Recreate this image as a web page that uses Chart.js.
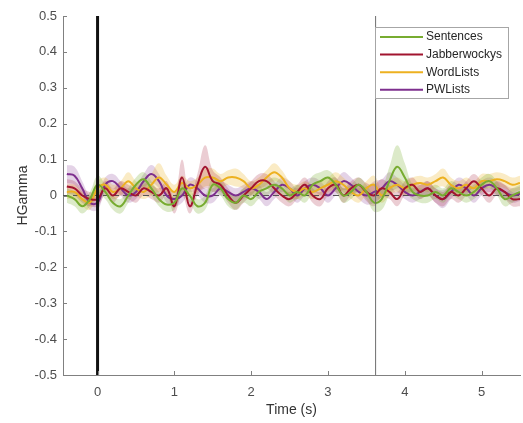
<!DOCTYPE html>
<html>
<head>
<meta charset="utf-8">
<script src="https://cdn.jsdelivr.net/npm/chart.js@4/dist/chart.umd.min.js"></script>
<style>
  html, body { margin: 0; padding: 0; background: #fff; }
  #wrap { width: 523px; height: 423px; position: relative; }
</style>
</head>
<body>
<div id="wrap"><canvas id="chart" width="523" height="423"></canvas></div>
<script>
// time base (s)
const times = [-0.4, -0.3, -0.2, -0.1, 0.0, 0.1, 0.2, 0.3, 0.4, 0.5, 0.6, 0.7, 0.8, 0.9,
  1.0, 1.1, 1.2, 1.3, 1.4, 1.5, 1.6, 1.7, 1.8, 1.9, 2.0, 2.1, 2.2, 2.3, 2.4, 2.5, 2.6, 2.7, 2.8, 2.9,
  3.0, 3.1, 3.2, 3.3, 3.4, 3.5, 3.6, 3.7, 3.8, 3.9, 4.0, 4.1, 4.2, 4.3, 4.4, 4.5, 4.6, 4.7, 4.8, 4.9,
  5.0, 5.1, 5.2, 5.3, 5.4, 5.5];

const labels = ["Sentences", "Jabberwockys", "WordLists", "PWLists"];
const colors = ["#77AC30", "#A2142F", "#EDB120", "#7E2F8E"];
const bandColors = ["rgba(119,172,48,0.26)", "rgba(162,20,47,0.21)", "rgba(237,177,32,0.26)", "rgba(126,47,142,0.21)"];

const sentences = [0.00, -0.01, -0.03, -0.01, 0.03, 0.01, -0.02, -0.03, 0.00, 0.03, 0.045, 0.02, -0.01, -0.025,
  -0.02, 0.02, 0.00, -0.03, -0.02, 0.03, 0.02, -0.01, -0.02, 0.00, -0.01, 0.01, 0.02, 0.03, 0.02, 0.00, 0.01, 0.00, 0.03, 0.04,
  0.05, 0.03, 0.00, 0.01, 0.03, 0.01, -0.02, -0.01, 0.04, 0.08, 0.05, 0.01, 0.00, 0.00, 0.01, 0.00, 0.02, 0.01, 0.00, 0.01,
  0.03, 0.04, 0.02, -0.01, 0.00, 0.01];
const jabber = [0.025, 0.02, 0.00, -0.01, -0.01, 0.02, 0.00, 0.02, 0.01, 0.00, 0.02, 0.01, 0.00, 0.02,
  -0.03, 0.05, -0.03, 0.03, 0.08, 0.04, 0.03, 0.00, -0.02, 0.00, 0.02, 0.04, 0.04, 0.02, 0.00, -0.01, 0.01, 0.03, 0.00, -0.01,
  0.02, 0.03, 0.00, 0.02, 0.03, 0.01, 0.00, 0.02, 0.01, -0.01, 0.02, 0.03, 0.01, 0.02, 0.00, -0.01, 0.01, 0.00, 0.02, 0.04,
  0.02, 0.00, 0.02, 0.01, -0.01, -0.01];
const wordLists = [0.01, 0.01, -0.01, -0.02, 0.02, 0.03, 0.01, 0.02, 0.04, 0.02, 0.01, 0.03, 0.05, 0.03,
  0.01, 0.035, 0.02, 0.03, 0.05, 0.05, 0.04, 0.05, 0.05, 0.04, 0.02, 0.03, 0.05, 0.065, 0.05, 0.02, 0.01, 0.02, 0.01, 0.02,
  0.03, 0.04, 0.03, 0.01, 0.00, 0.02, 0.03, 0.00, 0.02, 0.03, 0.02, 0.03, 0.035, 0.03, 0.04, 0.05, 0.03, 0.02, 0.03, 0.02,
  0.04, 0.04, 0.045, 0.04, 0.03, 0.035];
const pwLists = [0.06, 0.055, 0.02, -0.02, -0.02, 0.03, 0.04, 0.02, 0.00, 0.01, 0.04, 0.06, 0.04, 0.00,
  -0.01, 0.00, 0.03, 0.02, 0.00, 0.00, 0.02, 0.01, 0.00, 0.01, 0.02, 0.01, -0.01, 0.01, 0.03, 0.02, 0.00, 0.02, 0.03, 0.02,
  0.00, 0.02, 0.04, 0.03, 0.01, 0.00, 0.01, 0.02, 0.04, 0.03, 0.01, 0.00, 0.01, 0.02, 0.00, -0.01, 0.01, 0.03, 0.02, 0.00,
  0.02, 0.03, 0.02, 0.01, 0.00, 0.005];

// half-width of the shaded error bands
const sentencesErr = [0.02, 0.02, 0.02, 0.02, 0.025, 0.02, 0.02, 0.02, 0.02, 0.02, 0.02, 0.02, 0.02, 0.02,
  0.02, 0.02, 0.02, 0.02, 0.02, 0.02, 0.02, 0.02, 0.02, 0.02, 0.02, 0.02, 0.02, 0.02, 0.02, 0.02, 0.02, 0.02, 0.025, 0.025,
  0.02, 0.02, 0.02, 0.02, 0.02, 0.02, 0.025, 0.03, 0.04, 0.06, 0.04, 0.02, 0.02, 0.02, 0.02, 0.02, 0.02, 0.02, 0.02, 0.02,
  0.02, 0.02, 0.02, 0.02, 0.02, 0.02];
const jabberErr = [0.02, 0.02, 0.02, 0.02, 0.02, 0.02, 0.02, 0.02, 0.02, 0.02, 0.02, 0.02, 0.02, 0.02,
  0.02, 0.05, 0.02, 0.03, 0.06, 0.03, 0.02, 0.02, 0.02, 0.02, 0.02, 0.02, 0.02, 0.02, 0.02, 0.02, 0.02, 0.02, 0.02, 0.02,
  0.02, 0.02, 0.02, 0.02, 0.02, 0.025, 0.03, 0.025, 0.02, 0.02, 0.02, 0.02, 0.02, 0.02, 0.02, 0.02, 0.02, 0.02, 0.02, 0.02,
  0.02, 0.02, 0.02, 0.02, 0.02, 0.02];
const wordListsErr = [0.02, 0.02, 0.02, 0.02, 0.02, 0.02, 0.02, 0.02, 0.025, 0.02, 0.02, 0.03, 0.04, 0.025,
  0.02, 0.02, 0.02, 0.02, 0.025, 0.025, 0.02, 0.02, 0.025, 0.02, 0.02, 0.02, 0.02, 0.025, 0.02, 0.02, 0.02, 0.02, 0.02, 0.02,
  0.02, 0.025, 0.02, 0.02, 0.02, 0.02, 0.025, 0.02, 0.02, 0.02, 0.02, 0.02, 0.02, 0.02, 0.02, 0.025, 0.02, 0.02, 0.02, 0.02,
  0.02, 0.02, 0.02, 0.02, 0.02, 0.02];
const pwListsErr = [0.025, 0.025, 0.02, 0.02, 0.02, 0.02, 0.02, 0.02, 0.02, 0.02, 0.02, 0.025, 0.02, 0.02,
  0.02, 0.02, 0.02, 0.02, 0.02, 0.02, 0.02, 0.02, 0.02, 0.02, 0.02, 0.02, 0.02, 0.02, 0.02, 0.02, 0.02, 0.02, 0.02, 0.02,
  0.02, 0.02, 0.025, 0.02, 0.02, 0.025, 0.03, 0.025, 0.025, 0.02, 0.02, 0.02, 0.02, 0.02, 0.02, 0.025, 0.02, 0.02, 0.02, 0.02,
  0.02, 0.02, 0.02, 0.02, 0.02, 0.02];

const means = [sentences, jabber, wordLists, pwLists];
const errs = [sentencesErr, jabberErr, wordListsErr, pwListsErr];

// event markers (s)
const eventTimes = [0, 3.62];
const eventWidths = [3, 1];
const eventColors = ["#111111", "#6e6e6e"];

const xTicks = [0, 1, 2, 3, 4, 5];
const yTicks = [-0.5, -0.4, -0.3, -0.2, -0.1, 0, 0.1, 0.2, 0.3, 0.4, 0.5];
const xMin = -0.45, xMax = 5.5, yMin = -0.5, yMax = 0.5;

function pts(ys) {
  return times.map((t, i) => ({ x: t, y: ys[i] }));
}

const datasets = [];
// event lines on top
eventTimes.forEach((t, k) => {
  datasets.push({
    label: "_event" + k,
    data: [{ x: t, y: yMin }, { x: t, y: yMax }],
    borderColor: eventColors[k],
    borderWidth: eventWidths[k],
    pointRadius: 0,
    fill: false,
    order: 0,
  });
});
// mean lines
means.forEach((m, k) => {
  datasets.push({
    label: labels[k],
    data: pts(m),
    borderColor: colors[k],
    borderWidth: 2,
    pointRadius: 0,
    tension: 0.4,
    fill: false,
    order: 1,
  });
});
// zero line
datasets.push({
  label: "_zero",
  data: [{ x: xMin, y: 0 }, { x: xMax, y: 0 }],
  borderColor: "#555555",
  borderWidth: 1,
  borderDash: [6, 4],
  pointRadius: 0,
  fill: false,
  order: 2,
});
// error bands
means.forEach((m, k) => {
  const e = errs[k];
  datasets.push({
    label: "_hi" + k,
    data: pts(m.map((v, i) => v + e[i])),
    borderWidth: 0,
    borderColor: "rgba(0,0,0,0)",
    pointRadius: 0,
    tension: 0.4,
    fill: false,
    order: 3,
  });
  datasets.push({
    label: "_lo" + k,
    data: pts(m.map((v, i) => v - e[i])),
    borderWidth: 0,
    borderColor: "rgba(0,0,0,0)",
    backgroundColor: bandColors[k],
    pointRadius: 0,
    tension: 0.4,
    fill: "-1",
    order: 3,
  });
});

const FONT = "'Liberation Sans', Arial, Helvetica, sans-serif";

// MATLAB-style inward tick marks
const inwardTicks = {
  id: "inwardTicks",
  afterDraw(chart) {
    const ctx = chart.ctx;
    const xs = chart.scales.x, ys = chart.scales.y;
    const a = chart.chartArea;
    ctx.save();
    ctx.strokeStyle = "#808080";
    ctx.lineWidth = 1;
    ctx.beginPath();
    xTicks.forEach(v => {
      const px = Math.round(xs.getPixelForValue(v)) + 0.5;
      ctx.moveTo(px, a.bottom);
      ctx.lineTo(px, a.bottom - 4);
    });
    yTicks.forEach(v => {
      const py = Math.round(ys.getPixelForValue(v)) + 0.5;
      ctx.moveTo(a.left, py);
      ctx.lineTo(a.left + 4, py);
    });
    ctx.stroke();
    ctx.restore();
  }
};

// boxed legend in the upper right
const boxLegend = {
  id: "boxLegend",
  afterDraw(chart) {
    const ctx = chart.ctx;
    const x0 = 375, y0 = 27, w = 133, h = 71, row = 17.6;
    ctx.save();
    ctx.fillStyle = "#ffffff";
    ctx.fillRect(x0, y0, w, h);
    ctx.strokeStyle = "#a6a6a6";
    ctx.lineWidth = 1;
    ctx.strokeRect(x0 + 0.5, y0 + 0.5, w, h);
    ctx.font = "12px " + FONT;
    ctx.textBaseline = "middle";
    labels.forEach((lab, k) => {
      const y = y0 + 10 + k * row;
      ctx.strokeStyle = colors[k];
      ctx.lineWidth = 2;
      ctx.beginPath();
      ctx.moveTo(x0 + 5, y);
      ctx.lineTo(x0 + 48, y);
      ctx.stroke();
      ctx.fillStyle = "#262626";
      ctx.fillText(lab, x0 + 51, y);
    });
    ctx.restore();
  }
};

new Chart(document.getElementById("chart"), {
  type: "line",
  data: { datasets: datasets },
  plugins: [inwardTicks, boxLegend],
  options: {
    responsive: false,
    animation: false,
    layout: { padding: { top: 16, right: 3, left: 0, bottom: 0 } },
    plugins: {
      legend: { display: false },
      tooltip: { enabled: false },
      filler: { propagate: false },
    },
    scales: {
      x: {
        type: "linear",
        min: xMin,
        max: xMax,
        afterBuildTicks: s => { s.ticks = xTicks.map(v => ({ value: v })); },
        afterFit: s => { s.height = 48; },
        border: { display: true, color: "#808080", width: 1 },
        grid: { display: false, drawTicks: false },
        ticks: { color: "#4d4d4d", font: { size: 13, family: FONT }, padding: 10, maxRotation: 0 },
        title: { display: true, text: "Time (s)", color: "#333333", font: { size: 14, family: FONT }, padding: { top: 4 } },
      },
      y: {
        type: "linear",
        min: yMin,
        max: yMax,
        afterBuildTicks: s => { s.ticks = yTicks.map(v => ({ value: v })); },
        afterFit: s => { s.width = 63; },
        border: { display: true, color: "#808080", width: 1 },
        grid: { display: false, drawTicks: false },
        ticks: { color: "#4d4d4d", font: { size: 13, family: FONT }, padding: 6, callback: v => String(v) },
        title: { display: true, text: "HGamma", color: "#333333", font: { size: 14, family: FONT }, padding: { top: 15 } },
      },
    },
  },
});
</script>
</body>
</html>
